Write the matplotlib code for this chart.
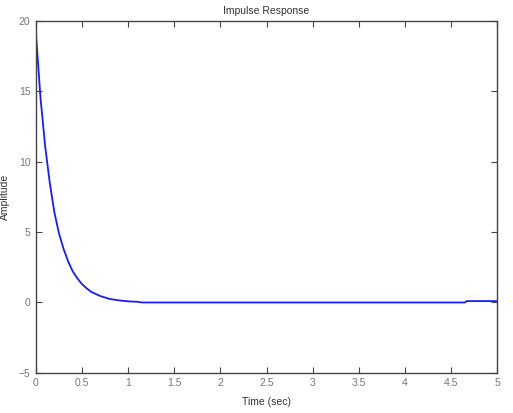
import matplotlib
matplotlib.use('Agg')
import matplotlib.pyplot as plt

# valores (tempo em s, amplitude)
tempo = [0, 0.05, 0.1, 0.15, 0.2, 0.25, 0.3, 0.35, 0.4, 0.45, 0.5, 0.55, 0.6,
         0.7, 0.8, 0.9, 1.0, 1.1, 1.15, 4.65, 4.67, 5.0]
amplitude = [19.1, 14.5, 11.1, 8.5, 6.4, 4.9, 3.8, 2.9, 2.2, 1.7, 1.3, 1.0, 0.75,
             0.45, 0.25, 0.15, 0.08, 0.05, 0.0, 0.0, 0.1, 0.1]

xticks = [0, 0.5, 1, 1.5, 2, 2.5, 3, 3.5, 4, 4.5, 5]
xtick_labels = ['0', '0.5', '1', '1.5', '2', '2.5', '3', '3.5', '4', '4.5', '5']
yticks = [-5, 0, 5, 10, 15, 20]

plt.rcParams['font.family'] = ['Liberation Sans', 'DejaVu Sans']

fig = plt.figure(figsize=(5.13, 4.13), dpi=100)
ax = fig.add_axes([0.070, 0.097, 0.899, 0.853])

ax.plot(tempo, amplitude, color='#1a1aff', linewidth=1.3)

ax.set_xlim(0, 5)
ax.set_ylim(-5, 20)
ax.set_xticks(xticks)
ax.set_xticklabels(xtick_labels)
ax.set_yticks(yticks)
ax.tick_params(direction='in', top=True, right=True, length=4, width=0.8,
               color='#444444', labelsize=7.5, labelcolor='#777777', pad=4)
for s in ax.spines.values():
    s.set_color('#444444')
    s.set_linewidth(1.0)

ax.set_title('Impulse Response', fontsize=7.5, pad=5, color='#333333')
ax.set_xlabel('Time (sec)', fontsize=7.5, labelpad=6, color='#333333')
ax.set_ylabel('Amplitude', fontsize=7.5, labelpad=6, color='#333333')

plt.savefig('out.png', dpi=100)
